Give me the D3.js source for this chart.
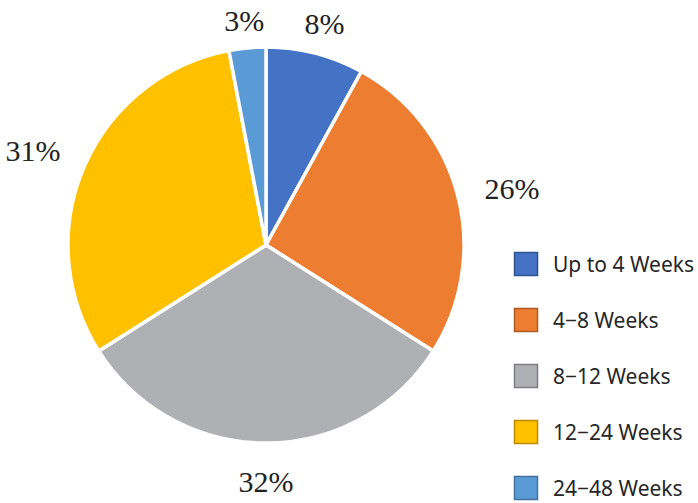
<!DOCTYPE html>
<html>
<head>
<meta charset="utf-8">
<script src="https://cdn.jsdelivr.net/npm/d3@7"></script>
<style>
  body { margin: 0; background: #fff; }
  svg { display: block; }
</style>
</head>
<body>
<div id="chart-area"></div>
<script>
const width = 698, height = 503;

// data
const categories = ["Up to 4 Weeks", "4\u22128 Weeks", "8\u221212 Weeks", "12\u221224 Weeks", "24\u221248 Weeks"];
const values = [8, 26, 32, 31, 3];
const colors = ["#4472C4", "#ED7D31", "#AFB0B4", "#FFC000", "#5B9BD5"];
const borders = ["#2F528F", "#AE5A21", "#7C7D80", "#BC8C00", "#41719C"];

const cx = 266, cy = 245, radius = 198;

var svg = d3.select("#chart-area").append("svg")
    .attr("width", width)
    .attr("height", height);

var pie = d3.pie().sort(null).value(d => d);
var arcs = pie(values);

var arc = d3.arc().innerRadius(0).outerRadius(radius);

var g = svg.append("g")
    .attr("transform", `translate(${cx},${cy})`);

g.selectAll("path")
    .data(arcs)
    .enter().append("path")
    .attr("d", arc)
    .attr("fill", (d, i) => colors[i])
    .attr("stroke", "#fff")
    .attr("stroke-width", 3.5)
    .attr("stroke-linejoin", "round");

// outside-end labels, box pushed out along the slice's mid angle
const labelGap = 22;
const fontSize = 30;
g.selectAll("text.pct")
    .data(arcs)
    .enter().append("text")
    .attr("class", "pct")
    .attr("font-family", "'Liberation Serif', 'Times New Roman', serif")
    .attr("font-size", fontSize)
    .attr("fill", "#222")
    .attr("text-anchor", "middle")
    .each(function(d) {
        var label = d.data + "%";
        var a = (d.startAngle + d.endAngle) / 2;
        var ux = Math.sin(a), uy = -Math.cos(a);
        var w = (label.length === 2 ? 38 : 55) + 10;
        var h = 20;
        var ext = w / 2 * Math.abs(ux) + h / 2 * Math.abs(uy);
        var dist = radius + labelGap + ext;
        d3.select(this)
          .attr("x", ux * dist)
          .attr("y", uy * dist + 17)
          .text(label);
    });

// legend
var legendY = d3.scalePoint()
    .domain(categories)
    .range([264, 488]);

var legend = svg.append("g").attr("class", "legend");

legend.selectAll("rect")
    .data(categories)
    .enter().append("rect")
    .attr("x", 514.5)
    .attr("y", d => legendY(d) - 11.5)
    .attr("width", 23)
    .attr("height", 23)
    .attr("fill", (d, i) => colors[i])
    .attr("stroke", (d, i) => borders[i])
    .attr("stroke-width", 1.5);

legend.selectAll("text")
    .data(categories)
    .enter().append("text")
    .attr("x", 553)
    .attr("y", d => legendY(d) + 7.5)
    .attr("font-family", "'Noto Sans', sans-serif")
    .attr("font-size", 21)
    .attr("fill", "#262626")
    .text(d => d);
</script>
</body>
</html>
